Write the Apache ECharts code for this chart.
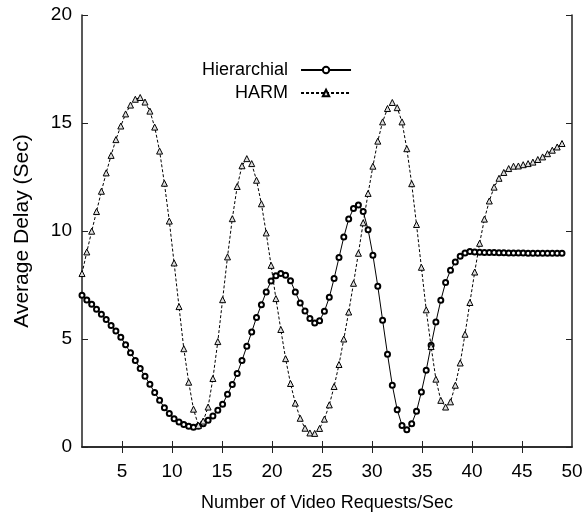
<!DOCTYPE html>
<html>
<head>
<meta charset="utf-8">
<script src="https://cdn.jsdelivr.net/npm/echarts@6.0.0/dist/echarts.min.js"></script>
<style>
html, body { margin: 0; padding: 0; background: #fff; }
#chartDiv { width: 587px; height: 519px; }
</style>
</head>
<body>
<div id="chartDiv"></div>
<script>
// request rates (x positions of the measured points)
var requests = [
    1.00, 1.48, 1.97, 2.45, 2.94, 3.42, 3.91, 4.39, 4.88, 5.36,
    5.85, 6.33, 6.82, 7.30, 7.79, 8.27, 8.76, 9.24, 9.73, 10.21,
    10.70, 11.18, 11.67, 12.15, 12.64, 13.12, 13.61, 14.09, 14.58, 15.06,
    15.55, 16.03, 16.52, 17.00, 17.48, 17.97, 18.45, 18.94, 19.42, 19.91,
    20.39, 20.88, 21.36, 21.85, 22.33, 22.82, 23.30, 23.79, 24.27, 24.76,
    25.24, 25.73, 26.21, 26.70, 27.18, 27.67, 28.15, 28.64, 29.12, 29.61,
    30.09, 30.58, 31.06, 31.55, 32.03, 32.52, 33.00, 33.48, 33.97, 34.45,
    34.94, 35.42, 35.91, 36.39, 36.88, 37.36, 37.85, 38.33, 38.82, 39.30,
    39.79, 40.27, 40.76, 41.24, 41.73, 42.21, 42.70, 43.18, 43.67, 44.15,
    44.64, 45.12, 45.61, 46.09, 46.58, 47.06, 47.55, 48.03, 48.52, 49.00
];

// Hierarchial average delay (sec)
var hierarchial = [
    7.02, 6.80, 6.61, 6.38, 6.15, 5.90, 5.62, 5.37, 5.08, 4.73,
    4.36, 4.01, 3.63, 3.27, 2.90, 2.52, 2.16, 1.82, 1.55, 1.31,
    1.16, 1.04, 0.96, 0.92, 0.96, 1.08, 1.24, 1.44, 1.70, 1.98,
    2.44, 2.89, 3.40, 4.01, 4.66, 5.32, 6.00, 6.59, 7.18, 7.68,
    7.93, 8.03, 7.95, 7.70, 7.18, 6.67, 6.30, 5.95, 5.74, 5.85,
    6.28, 6.93, 7.80, 8.77, 9.72, 10.55, 11.04, 11.20, 10.90, 10.06,
    8.88, 7.44, 5.87, 4.29, 2.86, 1.73, 1.00, 0.80, 1.08, 1.65,
    2.55, 3.55, 4.71, 5.79, 6.79, 7.62, 8.18, 8.57, 8.83, 8.98,
    9.05, 9.03, 9.02, 9.01, 9.00, 9.00, 8.99, 8.99, 8.98, 8.98,
    8.98, 8.98, 8.97, 8.97, 8.97, 8.97, 8.97, 8.97, 8.97, 8.97
];

// HARM average delay (sec)
var harm = [
    8.03, 9.03, 9.99, 10.90, 11.84, 12.69, 13.50, 14.23, 14.86, 15.42,
    15.83, 16.10, 16.18, 15.97, 15.55, 14.81, 13.70, 12.21, 10.46, 8.52,
    6.50, 4.55, 3.00, 1.75, 1.00, 1.20, 1.85, 3.17, 4.88, 6.82,
    8.80, 10.57, 12.06, 13.02, 13.35, 13.12, 12.35, 11.26, 9.91, 8.41,
    6.87, 5.44, 4.09, 2.94, 2.03, 1.33, 0.87, 0.65, 0.63, 0.86,
    1.29, 1.95, 2.80, 3.82, 5.00, 6.25, 7.58, 8.97, 10.38, 11.74,
    13.00, 14.16, 15.05, 15.67, 15.95, 15.71, 15.05, 13.81, 12.19, 10.30,
    8.32, 6.35, 4.65, 3.14, 2.16, 1.85, 2.09, 2.86, 3.89, 5.22,
    6.69, 8.10, 9.43, 10.55, 11.39, 12.03, 12.44, 12.71, 12.89, 13.00,
    13.01, 13.07, 13.12, 13.19, 13.31, 13.43, 13.58, 13.74, 13.89, 14.05
];

var xTicks = [5, 10, 15, 20, 25, 30, 35, 40, 45];
var xLabels = [5, 10, 15, 20, 25, 30, 35, 40, 45, 50];
var seriesNames = ['Hierarchial', 'HARM'];

function pairs(xs, ys) {
    var out = [];
    for (var i = 0; i < xs.length; i++) {
        out.push([xs[i], ys[i]]);
    }
    return out;
}

var font = 'Liberation Sans';
var axisColor = '#222';

var dom = document.getElementById("chartDiv");
var myChart = echarts.init(dom);

var option = {
    animation: false,
    backgroundColor: '#fff',
    grid: { left: 82, right: 15, top: 15, bottom: 72 },
    legend: {
        data: seriesNames,
        orient: 'vertical',
        align: 'right',
        left: 202,
        top: 61,
        padding: 0,
        itemWidth: 50,
        itemHeight: 8,
        itemGap: 5,
        selectedMode: false,
        textStyle: { fontFamily: font, fontSize: 18, color: '#000', padding: [0, 8, 0, 0] }
    },
    xAxis: [
        {
            type: 'value',
            position: 'bottom',
            min: 1,
            max: 50,
            name: 'Number of Video Requests/Sec',
            nameLocation: 'middle',
            nameGap: 47,
            nameTextStyle: { fontFamily: font, fontSize: 18, color: '#000' },
            axisLine: { show: true, lineStyle: { color: axisColor, width: 1.5 } },
            axisTick: { show: true, inside: true, length: 6, customValues: xTicks, lineStyle: { color: axisColor } },
            axisLabel: { customValues: xLabels, fontFamily: font, fontSize: 19, color: '#000', margin: 15 },
            splitLine: { show: false }
        },
        {
            type: 'value',
            position: 'top',
            min: 1,
            max: 50,
            axisLine: { show: true, lineStyle: { color: axisColor, width: 1.5 } },
            axisTick: { show: true, inside: true, length: 6, customValues: xTicks, lineStyle: { color: axisColor } },
            axisLabel: { show: false },
            splitLine: { show: false }
        }
    ],
    yAxis: [
        {
            type: 'value',
            position: 'left',
            min: 0,
            max: 20,
            interval: 5,
            name: 'Average Delay (Sec)',
            nameLocation: 'middle',
            nameGap: 49,
            nameTextStyle: { fontFamily: font, fontSize: 21, color: '#000' },
            axisLine: { show: true, lineStyle: { color: axisColor, width: 1.5 } },
            axisTick: { show: true, inside: true, length: 6, lineStyle: { color: axisColor } },
            axisLabel: { fontFamily: font, fontSize: 19, color: '#000', margin: 10 },
            splitLine: { show: false }
        },
        {
            type: 'value',
            position: 'right',
            min: 0,
            max: 20,
            interval: 5,
            axisLine: { show: true, lineStyle: { color: axisColor, width: 1.5 } },
            axisTick: { show: true, inside: true, length: 6, lineStyle: { color: axisColor } },
            axisLabel: { show: false },
            splitLine: { show: false }
        }
    ],
    series: [
        {
            name: seriesNames[0],
            type: 'line',
            data: pairs(requests, hierarchial),
            symbol: 'circle',
            symbolSize: 5,
            showAllSymbol: true,
            lineStyle: { color: '#000', width: 1 },
            itemStyle: { color: '#fff', borderColor: '#000', borderWidth: 2 }
        },
        {
            name: seriesNames[1],
            type: 'line',
            data: pairs(requests, harm),
            symbol: 'triangle',
            symbolSize: 6,
            showAllSymbol: true,
            lineStyle: { color: '#000', width: 1, type: [3, 2] },
            itemStyle: { color: '#ddd', borderColor: '#000', borderWidth: 1 }
        }
    ]
};

myChart.setOption(option);
</script>
</body>
</html>
